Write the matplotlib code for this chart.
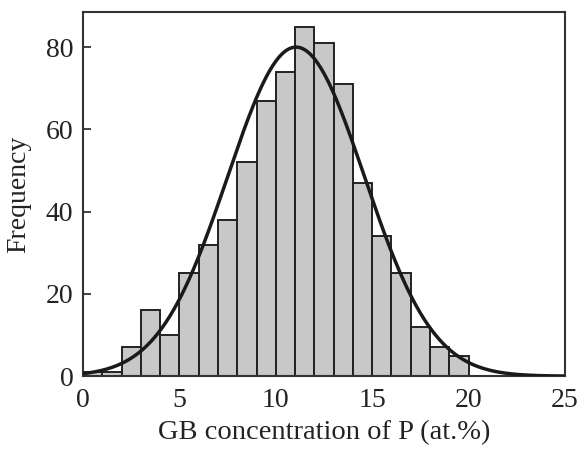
import numpy as np
import matplotlib
matplotlib.use("Agg")
import matplotlib.pyplot as plt

# Histogram of grain-boundary P concentration (1 at.% bins)
bin_edges = list(range(0, 21))
counts = [1, 1, 7, 16, 10, 25, 32, 38, 52, 67, 74, 85, 81, 71, 47, 34, 25, 12, 7, 5]

# Fitted normal distribution
fit_mean = 11.05
fit_sigma = 3.55
fit_peak = 80.0

x_ticks = [0, 5, 10, 15, 20, 25]
y_ticks = [0, 20, 40, 60, 80]

plt.rcParams['font.family'] = ['Liberation Serif', 'DejaVu Serif']

fig = plt.figure(figsize=(5.77, 4.5), dpi=100)
ax = fig.add_axes([0.144, 0.164, 0.835, 0.809])

lefts = np.array(bin_edges[:-1])
widths = np.diff(bin_edges)
ax.bar(lefts, counts, width=widths, align='edge', color='#c8c8c8',
       edgecolor='#222222', linewidth=1.4, zorder=2)

xs = np.linspace(0, 25, 500)
ys = fit_peak * np.exp(-0.5 * ((xs - fit_mean) / fit_sigma) ** 2)
ax.plot(xs, ys, color='#1a1a1a', linewidth=2.5, zorder=3)

ax.set_xlim(0, 25)
ax.set_ylim(0, 88.5)
ax.set_xticks(x_ticks)
ax.set_yticks(y_ticks)
ax.tick_params(direction='in', length=6, width=1.2, labelsize=20, colors='#222222')
ax.tick_params(axis='x', pad=8.5)
ax.tick_params(axis='y', pad=7)
for s in ax.spines.values():
    s.set_linewidth(1.5)
    s.set_color('#333333')

ax.set_xlabel('GB concentration of P (at.%)', fontsize=20.5, color='#222222')
ax.set_ylabel('Frequency', fontsize=20, color='#222222')
ax.xaxis.set_label_coords(0.5, -0.12)
ax.yaxis.set_label_coords(-0.108, 0.5)

fig.savefig('out.png', dpi=100)
